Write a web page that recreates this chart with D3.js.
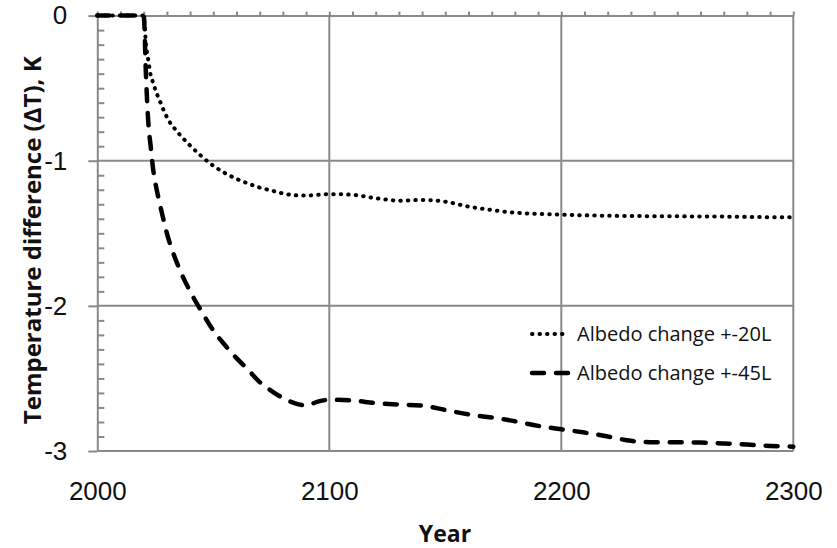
<!DOCTYPE html>
<html>
<head>
<meta charset="utf-8">
<script src="https://cdn.jsdelivr.net/npm/d3@7"></script>
<style>
  body { margin: 0; background: #fff; }
  svg { display: block; font-family: "Open Sans", sans-serif; }
  .grid line, .os path, .os line { stroke: #898989; stroke-width: 2; }
  .os text { fill: #111; font-size: 26px; }
  .naslov { font-weight: bold; fill: #111; }
  .legenda text { font-size: 20px; fill: #111; }
</style>
</head>
<body>
<div id="okvir"></div>
<script>
// data
const years = [2000, 2010, 2020, 2021, 2022, 2023, 2024, 2025, 2027, 2030, 2035, 2040, 2045,
  2050, 2055, 2060, 2065, 2070, 2075, 2080, 2085, 2090, 2095, 2100, 2110, 2120, 2130, 2140,
  2150, 2160, 2170, 2180, 2190, 2200, 2210, 2220, 2230, 2240, 2250, 2260, 2270, 2280, 2290, 2300]

const albedo20L = [0, 0, 0, -0.2, -0.31, -0.41, -0.46, -0.51, -0.59, -0.7, -0.81, -0.895, -0.97,
  -1.035, -1.085, -1.125, -1.157, -1.185, -1.205, -1.225, -1.238, -1.24, -1.235, -1.23, -1.235,
  -1.258, -1.275, -1.27, -1.282, -1.316, -1.34, -1.358, -1.366, -1.371, -1.376, -1.379, -1.381,
  -1.382, -1.383, -1.384, -1.385, -1.387, -1.389, -1.39]

const albedo45L = [0, 0, 0, -0.42, -0.74, -0.9, -1.05, -1.15, -1.3, -1.5, -1.73, -1.9, -2.04,
  -2.17, -2.27, -2.36, -2.44, -2.525, -2.585, -2.635, -2.67, -2.686, -2.66, -2.647, -2.652,
  -2.67, -2.68, -2.687, -2.717, -2.748, -2.769, -2.795, -2.827, -2.85, -2.873, -2.9, -2.93,
  -2.94, -2.94, -2.942, -2.948, -2.956, -2.965, -2.97]

const seriesNames = ["Albedo change +-20L", "Albedo change +-45L"]
const xTicks = [2000, 2100, 2200, 2300]
const yTicks = [0, -1, -2, -3]

function crtaj() {

  // 1. dimenzije
  const dim = {
    sirina: 837,
    visina: 548,
    margine: { top: 15.6, right: 43.7, bottom: 97, left: 97.3 },
  }
  dim.grSirina = dim.sirina - dim.margine.left - dim.margine.right
  dim.grVisina = dim.visina - dim.margine.top - dim.margine.bottom

  const okvir = d3.select("#okvir").append("svg")
      .attr("width", dim.sirina)
      .attr("height", dim.visina)

  const granice = okvir.append("g")
      .attr("transform", `translate(${dim.margine.left},${dim.margine.top})`)

  // 2. skale
  const xSkala = d3.scaleLinear()
    .domain([2000, 2300])
    .range([0, dim.grSirina])

  const ySkala = d3.scaleLinear()
    .domain([-3, 0])
    .range([dim.grVisina, 0])

  // 3. mreza
  granice.append("g").attr("class", "grid")
    .selectAll("line.h").data(yTicks.filter(d => d < 0)).join("line")
      .attr("x1", 0).attr("x2", dim.grSirina)
      .attr("y1", d => ySkala(d)).attr("y2", d => ySkala(d))

  granice.append("g").attr("class", "grid")
    .selectAll("line.v").data(xTicks.filter(d => d > 2000)).join("line")
      .attr("x1", d => xSkala(d)).attr("x2", d => xSkala(d))
      .attr("y1", 0).attr("y2", dim.grVisina)

  // 4. osi
  // x-os lezi na nuli (gore), oznake su dolje
  granice.append("g").attr("class", "os")
    .call(d3.axisTop(xSkala)
      .tickValues(d3.range(2000, 2301, 10))
      .tickSize(4).tickSizeOuter(0).tickFormat(""))

  granice.append("g").attr("class", "os")
      .attr("transform", `translate(0,${dim.grVisina})`)
    .call(d3.axisBottom(xSkala).tickValues(xTicks).tickSize(0).tickPadding(31).tickFormat(d3.format("d")))
    .call(g => g.select(".domain").remove())

  granice.append("g").attr("class", "os")
    .call(d3.axisLeft(ySkala).tickValues(yTicks).tickSize(9).tickSizeOuter(0).tickPadding(21)
      .tickFormat(d => d === 0 ? "0" : d3.format("d")(d).replace("−", "-")))

  granice.append("g").attr("class", "os")
    .call(d3.axisRight(ySkala).tickValues(d3.range(-30, 1).map(d => d / 10).filter(d => !yTicks.includes(d)))
      .tickSize(7).tickSizeOuter(0).tickFormat(""))
    .call(g => g.select(".domain").remove())

  // 5. linije
  const podaci = [
    { ime: seriesNames[0], vrijednosti: albedo20L, dash: "0.5 7", sirina: 4 },
    { ime: seriesNames[1], vrijednosti: albedo45L, dash: "12 12", sirina: 4.5 },
  ]

  const generatorLinije = d3.line()
    .x((d, i) => xSkala(years[i]))
    .y(d => ySkala(d))
    .curve(d3.curveMonotoneX)

  granice.selectAll("path.linija").data(podaci).join("path")
      .attr("class", "linija")
      .attr("fill", "none")
      .attr("stroke", "#000")
      .attr("stroke-width", d => d.sirina)
      .attr("stroke-linecap", "round")
      .attr("stroke-dasharray", d => d.dash)
      .attr("d", d => generatorLinije(d.vrijednosti))

  // 6. legenda
  const legenda = okvir.append("g").attr("class", "legenda")
  const stavke = legenda.selectAll("g").data(podaci).join("g")
      .attr("transform", (d, i) => `translate(530,${334 + i * 39})`)

  stavke.append("line")
      .attr("x1", 2).attr("x2", 39)
      .attr("stroke", "#000")
      .attr("stroke-width", d => d.sirina)
      .attr("stroke-linecap", "round")
      .attr("stroke-dasharray", d => d.dash)

  stavke.append("text")
      .attr("x", 47)
      .attr("dy", "0.35em")
      .text(d => d.ime)

  // 7. naslovi osi
  okvir.append("text")
      .attr("class", "naslov")
      .attr("text-anchor", "middle")
      .attr("font-size", 24)
      .attr("transform", `translate(33,${dim.margine.top + dim.grVisina / 2 + 7}) rotate(-90)`)
      .attr("dy", "0.35em")
      .text("Temperature difference (ΔT), K")

  okvir.append("text")
      .attr("class", "naslov")
      .attr("text-anchor", "middle")
      .attr("font-size", 23)
      .attr("x", 445)
      .attr("y", 542)
      .text("Year")
}
crtaj()
</script>
</body>
</html>
